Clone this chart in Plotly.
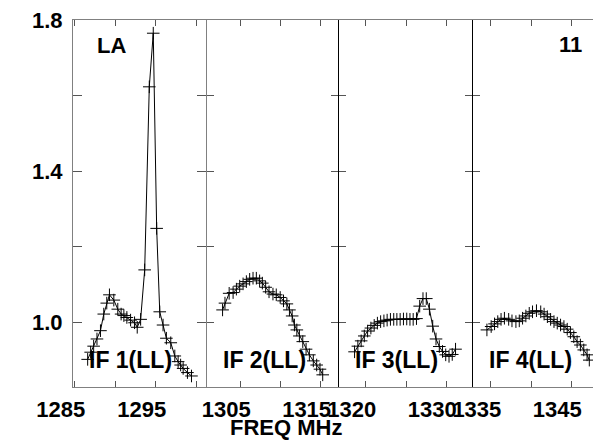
import plotly.graph_objects as go

# ---- data ----
freq1 = [1286.60, 1286.97, 1287.34, 1287.75, 1288.18, 1288.59, 1288.96, 1289.29, 1289.83, 1290.32,
         1290.73, 1291.07, 1291.44, 1291.90, 1292.39, 1292.72, 1293.14, 1293.64, 1294.21, 1294.70,
         1295.12, 1295.50, 1295.91, 1296.32, 1296.86, 1297.36, 1297.77, 1298.08, 1298.39, 1298.92,
         1299.42]
amp1 = [0.901, 0.920, 0.936, 0.955, 0.977, 1.021, 1.050, 1.072, 1.058, 1.034,
        1.021, 1.017, 1.012, 1.005, 0.998, 0.986, 1.007, 1.138, 1.623, 1.765,
        1.248, 1.027, 0.992, 0.957, 0.945, 0.910, 0.895, 0.886, 0.877, 0.866,
        0.857]

freq2 = [1302.80, 1303.10, 1303.62, 1304.11, 1304.52, 1304.93, 1305.35, 1305.76, 1306.17, 1306.59,
         1307.00, 1307.41, 1307.75, 1308.16, 1308.58, 1309.07, 1309.48, 1309.97, 1310.38, 1310.80,
         1311.12, 1311.46, 1311.74, 1312.04, 1312.36, 1312.78, 1313.19, 1313.60, 1314.09, 1314.51,
         1314.92, 1315.26]
amp2 = [1.032, 1.050, 1.076, 1.078, 1.087, 1.095, 1.101, 1.107, 1.113, 1.116,
        1.116, 1.109, 1.103, 1.092, 1.080, 1.074, 1.072, 1.065, 1.056, 1.048,
        1.032, 1.016, 0.992, 0.979, 0.963, 0.948, 0.928, 0.913, 0.897, 0.886,
        0.875, 0.860]

freq3 = [1318.60, 1319.01, 1319.42, 1319.81, 1320.22, 1320.63, 1321.04, 1321.44, 1321.84, 1322.25,
         1322.65, 1323.06, 1323.47, 1323.86, 1324.27, 1324.68, 1325.09, 1325.49, 1325.89, 1326.30,
         1326.70, 1327.11, 1327.52, 1327.91, 1328.32, 1328.73, 1329.14, 1329.54, 1329.94, 1330.35,
         1330.75, 1331.16]
amp3 = [0.921, 0.936, 0.950, 0.963, 0.976, 0.984, 0.991, 0.997, 1.001, 1.003,
        1.005, 1.007, 1.007, 1.007, 1.007, 1.008, 1.008, 1.007, 1.007, 1.009,
        1.042, 1.062, 1.062, 1.034, 0.989, 0.955, 0.935, 0.922, 0.913, 0.909,
        0.914, 0.928]

freq4 = [1334.51, 1335.04, 1335.46, 1335.86, 1336.27, 1336.69, 1337.22, 1337.63, 1338.12, 1338.54,
         1338.95, 1339.36, 1339.78, 1340.19, 1340.68, 1341.21, 1341.63, 1342.04, 1342.44, 1342.86,
         1343.27, 1343.68, 1344.10, 1344.51, 1344.91, 1345.33, 1345.74, 1346.15, 1346.57, 1346.98,
         1347.26]
amp4 = [0.979, 0.988, 0.995, 1.001, 1.007, 1.010, 1.007, 1.003, 1.001, 1.003,
        1.010, 1.016, 1.023, 1.027, 1.030, 1.027, 1.021, 1.014, 1.007, 1.001,
        0.997, 0.992, 0.988, 0.981, 0.972, 0.961, 0.948, 0.939, 0.926, 0.913,
        0.899]

panel_labels = ["IF 1(LL)", "IF 2(LL)", "IF 3(LL)", "IF 4(LL)"]
x_tickvals = [[1285, 1290, 1295, 1300], [1305, 1310, 1315], [1320, 1325, 1330], [1335, 1340, 1345]]
x_ticktext = [["1285", "", "1295", ""], ["1305", "", "1315"], ["1320", "", "1330"], ["1335", "", "1345"]]
y_tickvals = [1.0, 1.2, 1.4, 1.6, 1.8]
y_ticktext = ["1.0", "", "1.4", "", "1.8"]

# ---- layout parameters ----
PW = 520.0  # plot width in px
x_ranges = [[1284.79, 1301.15], [1300.80, 1317.20], [1316.70, 1333.17], [1332.74, 1347.72]]
domains = [[0.0, 132.5 / PW], [133.5 / PW, 265.3 / PW], [266.3 / PW, 398.7 / PW], [399.7 / PW, 1.0]]
y_range = [0.8278, 1.8]
GRAY = "#808080"
FONT = "Liberation Sans"


def bold(t):
    return f"<b>{t}</b>" if t else ""


series = [(freq1, amp1), (freq2, amp2), (freq3, amp3), (freq4, amp4)]

fig = go.Figure()
for i, (fx, fy) in enumerate(series, start=1):
    fig.add_trace(go.Scatter(
        x=fx, y=fy, mode="lines+markers",
        line=dict(color="black", width=1),
        marker=dict(symbol="cross-thin", size=9, color="black",
                    line=dict(color="black", width=1)),
        xaxis=f"x{i}", yaxis=f"y{i}", showlegend=False, hoverinfo="skip"))

layout = dict(
    width=593, height=442,
    margin=dict(l=73, r=0, t=20, b=55),
    paper_bgcolor="white", plot_bgcolor="white",
    showlegend=False,
)
ylinecolors = [GRAY, GRAY, "black", "black"]
for i in range(1, 5):
    sfx = "" if i == 1 else str(i)
    layout[f"xaxis{sfx}"] = dict(
        domain=domains[i - 1], range=x_ranges[i - 1], anchor=f"y{sfx}" if i > 1 else "y",
        tickmode="array", tickvals=x_tickvals[i - 1],
        ticktext=[bold(t) for t in x_ticktext[i - 1]],
        ticks="inside", ticklen=6, tickwidth=1, tickcolor="#555555",
        showline=True, linecolor=GRAY, linewidth=1, mirror="ticks",
        showgrid=False, zeroline=False,
        tickfont=dict(family=FONT, size=22, color="black"),
        ticklabelshift=-14, ticklabelstandoff=3, ticklabeloverflow="allow",
    )
    layout[f"yaxis{sfx}"] = dict(
        domain=[0, 1], range=y_range, anchor=f"x{sfx}" if i > 1 else "x",
        tickmode="array", tickvals=y_tickvals, ticktext=[bold(t) for t in y_ticktext],
        ticks="inside", ticklen=9 if i == 1 else 7, tickwidth=1, tickcolor="#555555",
        showline=True, linecolor=ylinecolors[i - 1], linewidth=1,
        mirror="ticks" if i < 4 else False,
        showgrid=False, zeroline=False,
        showticklabels=(i == 1),
        tickfont=dict(family=FONT, size=22, color="black"),
        ticklabelstandoff=5,
    )

annotations = []
for i, lab in enumerate(panel_labels):
    annotations.append(dict(
        text=bold(lab), xref="paper", yref="paper",
        x=domains[i][0] + 57.5 / PW, y=0.0736, xanchor="center", yanchor="middle",
        showarrow=False, font=dict(family=FONT, size=23, color="black")))
annotations += [
    dict(text=bold("LA"), xref="paper", yref="paper", x=0.0744, y=0.9305,
         xanchor="center", yanchor="middle", showarrow=False,
         font=dict(family=FONT, size=22, color="black")),
    dict(text=bold("11"), xref="paper", yref="paper", x=0.9558, y=0.9319,
         xanchor="center", yanchor="middle", showarrow=False,
         font=dict(family=FONT, size=22, color="black")),
    dict(text=bold("FREQ MHz"), xref="paper", yref="paper", x=0.4096, y=-0.1117,
         xanchor="center", yanchor="middle", showarrow=False,
         font=dict(family=FONT, size=22, color="black")),
]
layout["annotations"] = annotations
fig.update_layout(**layout)

fig.write_html(
    "out.html",
    config={"displayModeBar": False},
    post_script="document.body.style.margin='0';document.body.style.padding='0';",
)
